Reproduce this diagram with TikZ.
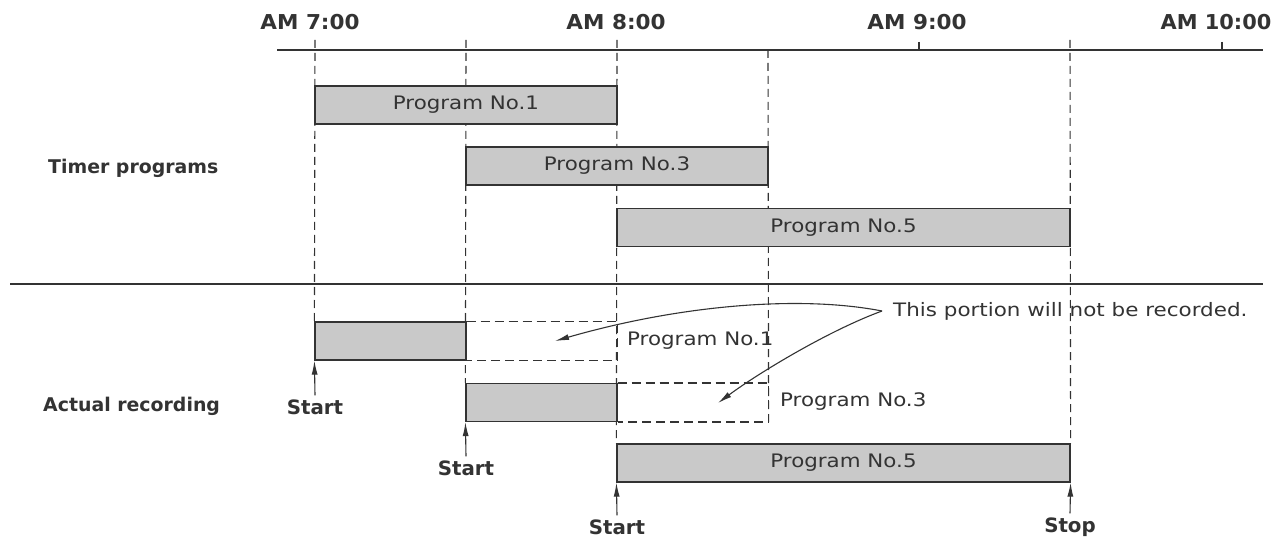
\documentclass[tikz,border=0pt]{standalone}
\usepackage{fontspec}
\usepackage{graphicx}
\setmainfont{DejaVu Sans}
\usetikzlibrary{arrows.meta,calc,backgrounds}
\definecolor{ink}{HTML}{333333}
\definecolor{boxfill}{HTML}{C9C9C9}
\newcommand{\wtxt}[2]{\scalebox{#1}[1]{#2}}
\begin{document}
\begin{tikzpicture}[x=1pt,y=-1pt,
  every node/.style={text=ink, inner sep=0pt},
  bar/.style={draw=ink, line width=1.2pt, fill=boxfill, minimum height=38pt, inner sep=0pt, font=\fontsize{18.6}{20}\selectfont},
  timelbl/.style={font=\bfseries\fontsize{20.5}{22}\selectfont},
  sidelbl/.style={font=\bfseries\fontsize{18.9}{20}\selectfont, anchor=west},
  sslbl/.style={font=\bfseries\fontsize{19.8}{21}\selectfont, inner sep=4pt},
  plbl/.style={font=\fontsize{18.6}{20}\selectfont, anchor=west},
  annlbl/.style={font=\fontsize{18.5}{20}\selectfont, anchor=west},
  guide/.style={draw=ink, line width=1.1pt, dash pattern=on 8pt off 5pt},
  rulel/.style={draw=ink, line width=1.3pt},
  ghost/.style={draw=ink, line width=1.4pt, dash pattern=on 9pt off 5pt},
  arr/.style={draw=ink, line width=1.1pt, -{Latex[length=14pt,width=6pt]}},
]
\useasboundingbox (0,0) rectangle (1273,537);

% time axis
\coordinate (ax0) at (277,50);
\coordinate (ax1) at (1263,50);
\draw[rulel] (ax0) -- (ax1);
\coordinate (tk9a) at (919,42);  \coordinate (tk9b) at (919,50);
\coordinate (tk10a) at (1222,42); \coordinate (tk10b) at (1222,50);
\draw[rulel] (tk9a) -- (tk9b);
\draw[rulel] (tk10a) -- (tk10b);
\node[timelbl] (h7) at (310,22) {\wtxt{1.05}{AM 7:00}};
\node[timelbl] (h8) at (616,22) {\wtxt{1.05}{AM 8:00}};
\node[timelbl] (h9) at (917,22) {\wtxt{1.05}{AM 9:00}};
\node[timelbl] (h10) at (1216,22) {\wtxt{1.02}{AM 10:00}};

% separator
\coordinate (sp0) at (10,284);
\coordinate (sp1) at (1263,284);
\draw[rulel] (sp0) -- (sp1);

% side labels
\node[sidelbl] (tp) at (48,168) {Timer programs};
\node[sidelbl] (ar) at (43,406) {Actual recording};

% timer programs
\node[bar, minimum width=302pt] (p1) at (466,105) {\wtxt{1.15}{Program No.1}};
\node[bar, minimum width=302pt] (p3) at (617,166) {\wtxt{1.15}{Program No.3}};
\node[bar, minimum width=453pt] (p5) at (843.5,227.5) {\wtxt{1.15}{Program No.5}};

% actual recording
\node[bar, minimum width=151pt] (r1) at (390.5,341) {};
\node[bar, minimum width=151pt] (r3) at (541.5,402.5) {};
\node[bar, minimum width=453pt] (r5) at (843.5,463) {\wtxt{1.15}{Program No.5}};

\draw[ghost] (r1.north east) -| ($(r1.south east)+(151,0)$) -- (r1.south east);
\draw[ghost] (r3.north east) -| ($(r3.south east)+(151,0)$) coordinate (g3) -- (r3.south east);

\node[plbl] (l1) at (627,341) {\wtxt{1.15}{Program No.1}};
\node[plbl] (l3) at (780,402) {\wtxt{1.15}{Program No.3}};

% guide lines
\begin{scope}[on background layer]
  \fill[white] (0,0) rectangle (1273,537);
  \coordinate (v7) at (315,40);
  \coordinate (v730) at (466,40);
  \coordinate (v8) at (617,40);
  \coordinate (v830) at (768,50);
  \coordinate (v930) at (1070,40);
  \draw[guide] (v7) -- (r1.north west);
  \draw[guide] (v730) -- (r3.north west);
  \draw[guide] (v8) -- (r5.north west);
  \draw[guide] (v830) -- (g3);
  \draw[guide] (v930) -- (r5.north east);
\end{scope}

% start / stop
\node[sslbl] (s1) at (315,407) {Start};
\node[sslbl] (s3) at (466,468) {Start};
\node[sslbl] (s5) at (617,527) {Start};
\node[sslbl] (st) at (1070,527) {Stop};
\draw[arr] (s1.north) -- (r1.south west);
\draw[arr] (s3.north) -- (r3.south west);
\draw[arr] (s5.north) -- (r5.south west);
\draw[arr] (st.north) -- (r5.south east);

% annotation
\node[annlbl] (ann) at (893,311) {\wtxt{1.16}{This portion will not be recorded.}};
\coordinate (tail) at ($(ann.west)+(-11,0)$);
\coordinate (m1) at (555,341);
\coordinate (m3) at (718,403);
\draw[arr] (tail) .. controls (800,295) and (680,305) .. (m1);
\draw[arr] (tail) .. controls (830,330) and (760,372) .. (m3);
\end{tikzpicture}
\end{document}
